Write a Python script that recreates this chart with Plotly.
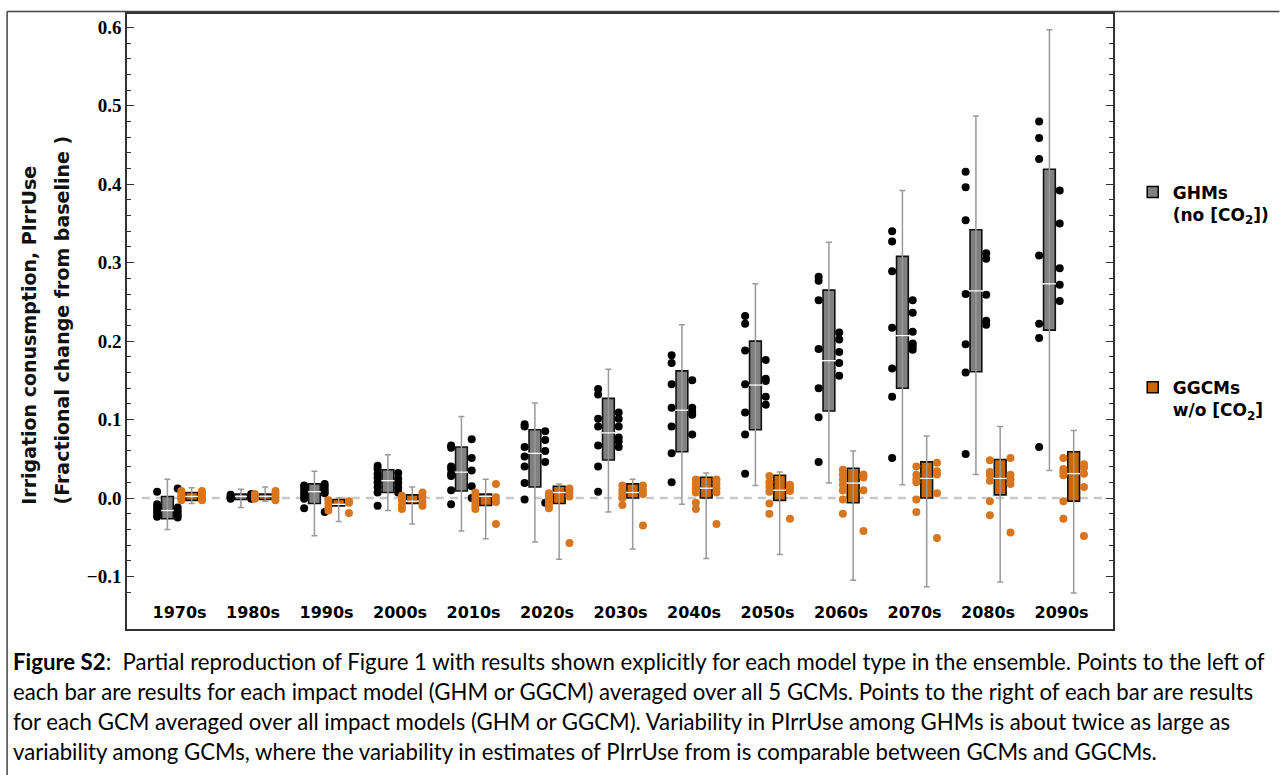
import plotly.graph_objects as go

decades = ["1970s", "1980s", "1990s", "2000s", "2010s", "2020s", "2030s",
           "2040s", "2050s", "2060s", "2070s", "2080s", "2090s"]

# GHM box statistics (fractional change)
ghm_lo  = [-0.040, -0.012, -0.048, -0.016, -0.042, -0.056, -0.018, -0.008, 0.016, 0.019, 0.017, 0.030, 0.035]
ghm_q1  = [-0.0265, -0.002, -0.007, 0.007, 0.009, 0.014, 0.0485, 0.059, 0.087, 0.111, 0.140, 0.161, 0.214]
ghm_med = [-0.016, 0.002, 0.008, 0.022, 0.033, 0.057, 0.083, 0.112, 0.144, 0.175, 0.207, 0.264, 0.273]
ghm_q3  = [0.002, 0.005, 0.018, 0.036, 0.065, 0.087, 0.127, 0.162, 0.200, 0.265, 0.308, 0.342, 0.419]
ghm_hi  = [0.024, 0.011, 0.034, 0.055, 0.104, 0.121, 0.164, 0.221, 0.273, 0.326, 0.392, 0.487, 0.597]

# GGCM box statistics
ggcm_lo  = [-0.007, -0.004, -0.030, -0.033, -0.052, -0.078, -0.065, -0.077, -0.072, -0.105, -0.113, -0.107, -0.121]
ggcm_q1  = [-0.003, -0.002, -0.010, -0.007, -0.0095, -0.007, 0.000, 0.000, -0.003, -0.006, 0.000, 0.004, -0.004]
ggcm_med = [0.002, 0.002, -0.008, -0.004, 0.002, 0.007, 0.007, 0.0125, 0.010, 0.019, 0.025, 0.025, 0.031]
ggcm_q3  = [0.007, 0.005, -0.002, 0.004, 0.005, 0.015, 0.018, 0.0265, 0.029, 0.038, 0.046, 0.049, 0.059]
ggcm_hi  = [0.013, 0.014, 0.000, 0.014, 0.024, 0.018, 0.024, 0.032, 0.033, 0.060, 0.079, 0.091, 0.086]

# Points left of each bar: each impact model averaged over GCMs
ghm_left = [
    [0.008, -0.008, -0.012, -0.016, -0.020, -0.024],
    [0.004, 0.002, 0.0, -0.001],
    [0.016, 0.012, 0.007, 0.003, -0.001, -0.013],
    [0.041, 0.037, 0.031, 0.026, 0.020, 0.014, 0.007, -0.010],
    [0.067, 0.064, 0.040, 0.037, 0.031, 0.028, 0.010, -0.008],
    [0.094, 0.091, 0.065, 0.053, 0.040, 0.019, -0.002],
    [0.139, 0.132, 0.101, 0.091, 0.067, 0.040, 0.008],
    [0.182, 0.172, 0.145, 0.115, 0.091, 0.057, 0.020],
    [0.232, 0.222, 0.188, 0.145, 0.109, 0.081, 0.031],
    [0.282, 0.277, 0.252, 0.190, 0.140, 0.103, 0.046],
    [0.340, 0.327, 0.289, 0.217, 0.165, 0.129, 0.051],
    [0.416, 0.396, 0.354, 0.260, 0.196, 0.160, 0.056],
    [0.480, 0.459, 0.432, 0.309, 0.222, 0.204, 0.065],
]
# Points right of each bar: each GCM averaged over impact models
ghm_right = [
    [0.012, -0.012, -0.017, -0.021, -0.025],
    [0.005, 0.002, -0.001],
    [0.018, 0.014, 0.010, 0.006, -0.018],
    [0.032, 0.025, 0.019, 0.013, 0.007],
    [0.075, 0.051, 0.035, 0.015, 0.000],
    [0.085, 0.074, 0.060, 0.046, -0.006],
    [0.109, 0.101, 0.091, 0.077, 0.072, 0.065],
    [0.150, 0.115, 0.110, 0.106, 0.081],
    [0.176, 0.152, 0.149, 0.129, 0.119],
    [0.211, 0.202, 0.186, 0.172, 0.156],
    [0.252, 0.236, 0.212, 0.197, 0.193, 0.189],
    [0.312, 0.305, 0.259, 0.226, 0.221],
    [0.392, 0.350, 0.293, 0.272, 0.251],
]
ggcm_left = [
    [0.009, 0.006, 0.003, 0.0, -0.003],
    [0.005, 0.001, -0.001],
    [-0.003, -0.007, -0.012, -0.016],
    [0.003, -0.003, -0.0095, -0.014],
    [0.007, 0.003, -0.001, -0.005, -0.0095, -0.014],
    [0.006, 0.002, -0.002, -0.006, -0.010, -0.013],
    [0.016, 0.010, 0.005, 0.000, -0.009],
    [0.0235, 0.018, 0.0125, 0.007, -0.006, -0.014],
    [0.028, 0.020, 0.014, 0.008, -0.007, -0.020],
    [0.036, 0.030, 0.0235, 0.017, 0.0095, -0.002, -0.020],
    [0.040, 0.0295, 0.024, 0.020, -0.002, -0.018],
    [0.048, 0.033, 0.029, 0.022, -0.004, -0.022],
    [0.051, 0.037, 0.033, 0.029, -0.004, -0.0265],
]
ggcm_right = [
    [0.009, 0.005, 0.001, -0.003],
    [0.009, 0.005, 0.001, -0.003],
    [-0.004, -0.006, -0.019],
    [0.007, 0.002, -0.005, -0.010],
    [0.018, 0.001, -0.005, -0.033],
    [0.012, 0.007, 0.002, -0.0575],
    [0.016, 0.010, 0.005, -0.035],
    [0.0235, 0.018, 0.0125, 0.007, -0.033],
    [0.017, 0.013, 0.009, -0.0265],
    [0.030, 0.026, 0.010, -0.042],
    [0.045, 0.034, 0.030, 0.006, -0.051],
    [0.051, 0.0295, 0.024, 0.018, -0.044],
    [0.043, 0.039, 0.031, 0.014, -0.0485],
]

y_title_lines = ["Irrigation conusmption, PIrrUse", "(Fractional change from baseline )"]

caption_lines = [
    "<b>Figure S2</b>:  Partial reproduction of Figure 1 with results shown explicitly for each model type in the ensemble. Points to the left of",
    "each bar are results for each impact model (GHM or GGCM) averaged over all 5 GCMs. Points to the right of each bar are results",
    "for each GCM averaged over all impact models (GHM or GGCM). Variability in PIrrUse among GHMs is about twice as large as",
    "variability among GCMs, where the variability in estimates of PIrrUse from is comparable between GCMs and GGCMs.",
]

GRAY = "#808080"
ORANGE_BOX = "#CC6600"
ORANGE_PT = "#D8761F"
BOX_OFF = 0.165
PT_OFF = 0.14
BOX_W = 0.16

fig = go.Figure()

def add_series(center_off, lo, q1, med, q3, hi, left, right, fill, ptcolor):
    idx = list(range(len(decades)))
    xs = [i + center_off for i in idx]
    # whiskers
    fig.add_trace(go.Scatter(
        x=xs, y=med, mode="markers",
        marker=dict(size=1, color="rgba(0,0,0,0)"),
        error_y=dict(type="data", symmetric=False,
                     array=[h - m for h, m in zip(hi, med)],
                     arrayminus=[m - l for m, l in zip(med, lo)],
                     color="#9a9a9a", thickness=1.5, width=3),
        showlegend=False, hoverinfo="skip"))
    # boxes
    fig.add_trace(go.Box(
        x=xs, q1=q1, median=med, q3=q3, lowerfence=q1, upperfence=q3,
        width=BOX_W, fillcolor=fill, line=dict(color="#111111", width=1.6),
        whiskerwidth=0, boxpoints=False, showlegend=False, hoverinfo="skip"))
    # medians (white)
    fig.add_trace(go.Scatter(
        x=xs, y=med, mode="markers",
        marker=dict(symbol="line-ew", size=10, line=dict(color="white", width=1.5)),
        showlegend=False, hoverinfo="skip"))
    # points
    lx, ly, rx, ry = [], [], [], []
    for i in idx:
        for v in left[i]:
            lx.append(i + center_off - PT_OFF); ly.append(v)
        for v in right[i]:
            rx.append(i + center_off + PT_OFF); ry.append(v)
    fig.add_trace(go.Scatter(x=lx + rx, y=ly + ry, mode="markers",
                             marker=dict(size=8, color=ptcolor),
                             showlegend=False, hoverinfo="skip"))

add_series(-BOX_OFF, ghm_lo, ghm_q1, ghm_med, ghm_q3, ghm_hi, ghm_left, ghm_right, GRAY, "black")
add_series(BOX_OFF, ggcm_lo, ggcm_q1, ggcm_med, ggcm_q3, ggcm_hi, ggcm_left, ggcm_right, ORANGE_BOX, ORANGE_PT)

# legend entries
fig.add_trace(go.Scatter(x=[None], y=[None], mode="markers",
                         marker=dict(symbol="square", size=11, color=GRAY, line=dict(color="black", width=1.5)),
                         name="GHMs<br>(no [CO<sub>2</sub>])", legendgroup="a"))
fig.add_trace(go.Scatter(x=[None], y=[None], mode="markers",
                         marker=dict(symbol="square", size=11, color=ORANGE_BOX, line=dict(color="black", width=1.5)),
                         name="GGCMs<br>w/o [CO<sub>2</sub>]", legendgroup="b"))

# zero reference line
fig.add_shape(type="line", xref="paper", yref="y", x0=0.015, x1=0.99, y0=0, y1=0,
              line=dict(color="#c8c8c8", width=2.5, dash="8px,6px"), layer="below")

# outer figure frame (left and top)
L, T, PW, PH = 127, 12, 995, 617
def px2paper_x(p): return (p - L) / PW
def px2paper_y(p): return (T + PH - p) / PH
fig.add_shape(type="line", xref="paper", yref="paper",
              x0=px2paper_x(6), x1=px2paper_x(6), y0=px2paper_y(9.5), y1=px2paper_y(776),
              line=dict(color="#444", width=1.5))
fig.add_shape(type="line", xref="paper", yref="paper",
              x0=px2paper_x(6), x1=px2paper_x(1290), y0=px2paper_y(9.5), y1=px2paper_y(9.5),
              line=dict(color="#444", width=1.5))

# y-axis title (two lines, bottom-aligned)
for txt, xc in zip(y_title_lines, [28, 61]):
    fig.add_annotation(xref="paper", yref="paper", x=px2paper_x(xc), y=px2paper_y(506),
                       text=txt, textangle=-90, showarrow=False,
                       xanchor="center", yanchor="bottom",
                       font=dict(family="DejaVu Sans", size=19, color="#111", weight="bold"))

# caption
cap_y = [662, 692, 722, 752]
for line, yy in zip(caption_lines, cap_y):
    fig.add_annotation(xref="paper", yref="paper", x=px2paper_x(10), y=px2paper_y(yy),
                       text=line, showarrow=False, xanchor="left", yanchor="middle", align="left",
                       font=dict(family="Lato", size=22.2, color="black"))

fig.update_layout(
    width=1286, height=775, autosize=False,
    margin=dict(l=127, r=164, t=12, b=146, pad=0),
    paper_bgcolor="white", plot_bgcolor="white",
    showlegend=True,
    legend=dict(x=1.02, y=px2paper_y(173), xanchor="left", yanchor="top",
                tracegroupgap=148, traceorder="grouped", valign="top",
                font=dict(family="DejaVu Sans", size=17, color="black", weight="bold"),
                bgcolor="rgba(0,0,0,0)", itemclick=False),
    xaxis=dict(range=[-0.715, 12.70], showline=True, mirror=True, linecolor="#333", linewidth=1.5,
               ticks="", tickvals=list(range(len(decades))), ticktext=decades,
               ticklabelposition="inside", ticklabelstandoff=8, showgrid=False, zeroline=False,
               tickfont=dict(family="DejaVu Sans", size=16, color="black", weight="bold")),
    yaxis=dict(range=[-0.167, 0.617], showline=True, mirror="allticks", linecolor="#333", linewidth=1.5,
               tick0=0, dtick=0.1, tickformat=".1f", ticks="inside", ticklen=7, tickwidth=1, tickcolor="#333",
               minor=dict(tick0=0, dtick=0.02, ticks="inside", ticklen=4, tickwidth=1, tickcolor="#333"),
               showgrid=False, zeroline=False,
               tickfont=dict(family="Liberation Serif", size=19, color="black", weight="bold")),
)

fig.write_html("out.html")
